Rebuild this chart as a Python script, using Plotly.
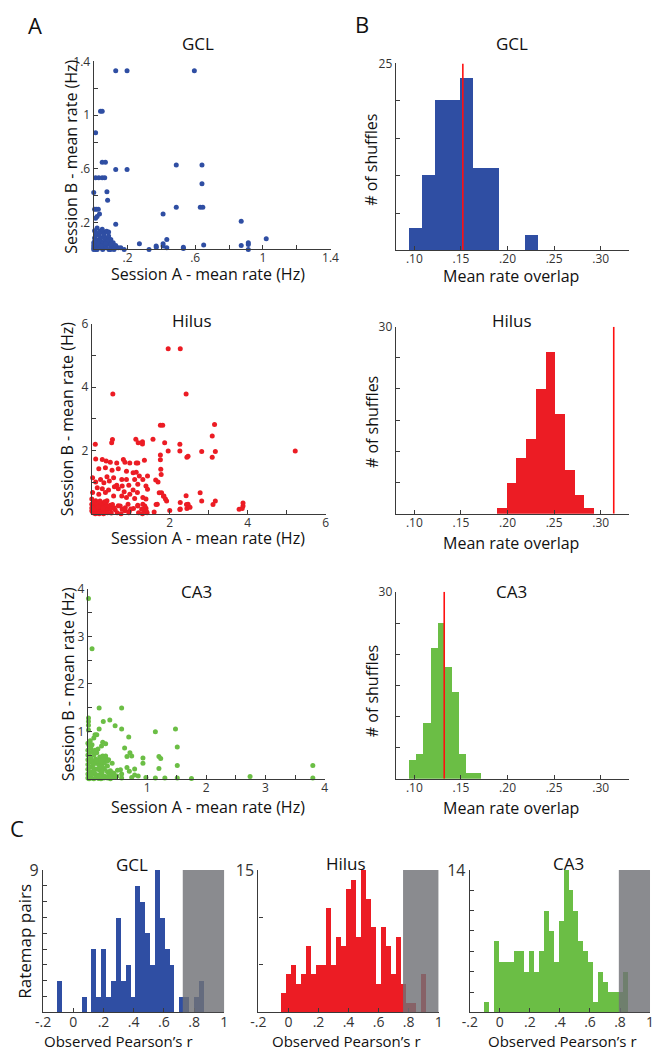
import plotly.graph_objects as go

W, H = 662, 1050
FONT = "Open Sans"
BLUE = "#2F4EA3"
RED = "#EC1C24"
GREEN = "#6BBE45"
GRAY = "rgba(112,114,118,0.82)"
AX = "#3a3a3a"

# ---------------- data ----------------
# A: session A vs session B mean rates (Hz)
gcl_a = [0.13, 0.197, 0.595, 0.04, 0.05, 0.011, 0.05, 0.069, 0.13, 0.197, 0.488, 0.64,
         0.011, 0.03, 0.05, 0.065, 0.0, 0.078, 0.082, 0.64, 0.488, 0.63, 0.645, 0.41, 0.872,
         0.13, 0.005, 0.015, 0.027, 0.011, 0.02, 0.034, 1.02, 0.914, 0.914, 0.914, 0.872,
         0.65, 0.53, 0.53, 0.432, 0.41, 0.41, 0.369, 0.327, 0.27, 0.432, 0.37,
         0.005, 0.01, 0.005, 0.02, 0.035, 0.045, 0.055, 0.063, 0.072, 0.082, 0.092, 0.101,
         0.111, 0.12, 0.13, 0.145, 0.0, 0.0, 0.015, 0.03, 0.038, 0.053, 0.069, 0.084, 0.076,
         0.065, 0.05, 0.088, 0.101, 0.115, 0.0, 0.01, 0.02, 0.025, 0.04, 0.06, 0.08, 0.1,
         0.09, 0.03, 0.015, 0.045, 0.07, 0.12, 0.16, 0.18, 0.0, 0.005, 0.1, 0.13, 0.035,
         0.05, 0.088, 0.06, 0.02]
gcl_b = [1.33, 1.33, 1.33, 1.03, 1.03, 0.87, 0.65, 0.65, 0.595, 0.595, 0.63, 0.63,
         0.535, 0.535, 0.535, 0.535, 0.425, 0.43, 0.366, 0.49, 0.315, 0.315, 0.315, 0.265, 0.21,
         0.187, 0.3, 0.3, 0.3, 0.233, 0.246, 0.265, 0.08, 0.05, 0.037, 0.0, 0.03,
         0.034, 0.017, 0.007, 0.074, 0.042, 0.025, 0.025, 0.0, 0.042, 0.012, 0.017,
         0.14, 0.1, 0.085, 0.07, 0.07, 0.06, 0.05, 0.025, 0.012, 0.037, 0.05, 0.025,
         0.012, 0.025, 0.012, 0.012, 0.05, 0.012, 0.025, 0.037, 0.012, 0.0, 0.074, 0.086, 0.135,
         0.128, 0.128, 0.1, 0.074, 0.05, 0.03, 0.0, 0.0, 0.05, 0.09, 0.09, 0.06, 0.0,
         0.0, 0.11, 0.12, 0.025, 0.045, 0.0, 0.012, 0.0, 0.0, 0.06, 0.04, 0.03, 0.135,
         0.15, 0.13, 0.11, 0.16]

hil_a = [1.96, 2.27, 0.54, 2.42, 1.76, 1.82, 3.15, 3.09, 0.53, 1.13, 1.57, 0.09, 0.51, 1.19,
         1.3, 1.3, 1.87, 2.26, 1.96, 2.26, 2.82, 3.17, 5.22, 2.44, 3.09, 1.76, 1.76,
         2.42, 2.78, 2.82, 3.17, 3.11, 2.43, 2.44, 2.26, 3.78, 3.86, 3.88, 3.88, 1.92, 1.84,
         1.79, 1.73,
         0.1, 0.27, 0.37, 0.475, 0.64, 0.81, 0.85, 0.975, 1.14, 1.18, 1.35, 1.77, 1.78,
         2.47, 0.18, 0.35, 0.52, 0.68, 0.89, 1.06, 1.14, 1.22, 1.43, 0.02, 0.225, 0.39,
         0.56, 0.77, 0.89, 1.1, 1.31, 1.64, 1.7, 0.1, 0.31, 0.45, 0.64, 0.78, 0.95, 1.18,
         1.39, 1.85, 0.14, 0.27, 0.43, 0.58, 0.68, 0.83, 0.975, 1.06, 1.17, 1.43, 1.89,
         0.02, 0.18, 0.35, 0.56, 0.77, 0.89, 1.1, 1.31, 1.39, 1.68, 2.27, 2.47, 0.0, 0.1,
         0.225, 0.39, 0.475, 0.68, 0.93, 1.18, 1.31, 1.39, 2.27, 2.52, 0.0, 0.06, 0.18,
         0.31, 0.43, 0.6, 0.85, 1.35, 0.0, 0.1, 0.225, 0.35,
         0.03, 0.07, 0.11, 0.15, 0.19, 0.23, 0.28, 0.32, 0.36, 0.4, 0.44, 0.48, 0.53, 0.57,
         0.04, 0.09, 0.15, 0.22, 0.28, 0.34, 0.03, 0.73, 0.78, 0.86, 0.96, 1.07, 1.18, 1.28,
         1.36, 1.4, 1.65, 2.0,
         0.05, 0.08, 0.12, 0.15, 0.2, 0.25, 0.03, 0.13, 0.28, 0.33, 0.06, 0.16, 0.21, 0.4,
         0.0, 0.09, 0.19, 0.3, 0.5, 0.65, 0.75, 0.95, 1.0, 1.2, 1.3, 1.42, 1.6]
hil_b = [5.21, 5.21, 3.78, 3.78, 2.79, 2.79, 2.82, 2.45, 2.34, 2.35, 2.35, 2.19, 2.24, 2.24,
         2.27, 2.2, 2.24, 2.19, 1.98, 1.98, 1.96, 1.96, 1.98, 1.78, 1.78, 1.85, 1.70,
         0.57, 0.66, 0.4, 0.4, 0.29, 0.29, 0.16, 0.13, 0.14, 0.16, 0.24, 0.34, 0.4, 0.55,
         0.66, 0.66,
         1.73, 1.71, 1.66, 1.625, 1.6, 1.71, 1.625, 1.6, 1.6, 1.6, 1.69, 1.4, 1.24,
         1.81, 1.42, 1.45, 1.375, 1.42, 1.34, 1.29, 1.31, 1.19, 1.19, 1.135, 1.08, 1.17,
         1.135, 1.08, 1.08, 1.08, 1.08, 1.06, 1.0, 1.0, 0.98, 1.03, 0.9, 0.875, 0.9, 0.93,
         0.875, 0.56, 0.82, 0.79, 0.75, 0.85, 0.79, 0.69, 0.615, 0.75, 0.67, 0.77, 0.46,
         0.67, 0.615, 0.67, 0.56, 0.56, 0.51, 0.48, 0.51, 0.46, 0.3, 0.35, 0.3, 0.46, 0.41,
         0.35, 0.41, 0.27, 0.25, 0.3, 0.27, 0.3, 0.17, 0.145, 0.2, 0.3, 0.25, 0.2,
         0.15, 0.15, 0.125, 0.09, 0.09, 0.09, 0.09, 0.09, 0.06,
         0.29, 0.34, 0.24, 0.29, 0.19, 0.34, 0.24, 0.16, 0.29, 0.19, 0.24, 0.14, 0.29, 0.19,
         0.16, 0.08, 0.03, 0.05, 0.08, 0.03, 0.03, 0.24, 0.14, 0.19, 0.08, 0.16, 0.24, 0.14,
         0.24, 0.08, 0.29, 0.1,
         0.35, 0.2, 0.28, 0.15, 0.05, 0.3, 0.05, 0.04, 0.18, 0.38, 0.13, 0.22, 0.4, 0.03,
         0.18, 0.0, 0.0, 0.0, 0.02, 0.03, 0.0, 0.03, 0.15, 0.03, 0.0, 0.03, 0.05]

ca3_a = [0.19, 0.57, 0.01, 0.01, 0.01, 0.01, 0.26, 0.37, 0.46, 0.57, 0.19, 1.14, 1.48, 0.69,
         0.12, 0.15, 0.1, 0.25, 0.3, 0.23, 1.51, 0.62, 0.71, 0.74, 0.66, 0.93, 0.93, 1.2,
         1.23, 1.2, 1.51, 0.41, 0.46, 0.57, 0.74, 0.98, 1.14, 1.3, 1.51, 1.75, 0.66, 0.7,
         0.79, 0.79, 0.85, 0.5, 0.57, 0.49, 3.8, 3.8, 2.74, 0.01, 0.07,
         0.0, 0.02, 0.05, 0.0, 0.03, 0.08, 0.0, 0.05, 0.1, 0.15, 0.2, 0.25, 0.3, 0.35, 0.0,
         0.03, 0.07, 0.12, 0.18, 0.24, 0.0, 0.05, 0.1, 0.15, 0.2, 0.28, 0.33, 0.0, 0.04,
         0.08, 0.12, 0.16, 0.22, 0.26, 0.3, 0.36, 0.0, 0.03, 0.06, 0.1, 0.14, 0.18, 0.22,
         0.27, 0.02, 0.0, 0.05, 0.09, 0.13, 0.17, 0.04, 0.07, 0.12, 0.2, 0.33, 0.38, 0.44,
         0.28, 0.1, 0.2, 0.16, 0.24,
         0.25, 0.3, 0.27, 0.22, 0.33, 0.41, 0.33, 0.25, 0.38, 0.41, 0.55]
ca3_b = [1.49, 1.49, 1.28, 1.21, 1.13, 1.03, 1.21, 1.24, 1.12, 1.05, 1.05, 0.99, 1.05, 0.88,
         0.93, 0.93, 0.86, 0.77, 0.74, 0.69, 0.67, 0.65, 0.55, 0.48, 0.47, 0.44, 0.33, 0.47,
         0.43, 0.22, 0.28, 0.05, 0.03, 0.02, 0.03, 0.03, 0.02, 0.02, 0.02, 0.01, 0.24, 0.16,
         0.21, 0.08, 0.06, 0.18, 0.1, 0.06, 0.28, 0.02, 0.05, 3.8, 2.74,
         0.75, 0.7, 0.65, 0.6, 0.55, 0.58, 0.5, 0.45, 0.5, 0.55, 0.46, 0.46, 0.45, 0.4, 0.4,
         0.35, 0.38, 0.33, 0.3, 0.3, 0.3, 0.25, 0.22, 0.2, 0.18, 0.2, 0.15, 0.2, 0.15,
         0.12, 0.1, 0.08, 0.1, 0.06, 0.05, 0.08, 0.1, 0.05, 0.02, 0.0, 0.03, 0.01, 0.0,
         0.02, 0.0, 0.02, 0.1, 0.3, 0.42, 0.63, 0.8, 0.72, 0.6, 0.05, 0.02, 0.0, 0.12,
         0.34, 0.15, 0.25, 0.38, 0.14,
         0.48, 0.48, 0.41, 0.375, 0.375, 0.33, 0.27, 0.24, 0.17, 0.13, 0.19]

# B: shuffled mean rate overlap (bin centres, counts) and observed value
overlap_bins_gcl = [0.1009, 0.1147, 0.1285, 0.1423, 0.1561, 0.1699, 0.1837, 0.1975, 0.2113, 0.2251]
overlap_counts_gcl = [3, 10, 20, 20, 23, 11, 11, 0, 0, 2]
overlap_width_gcl = 0.0138
overlap_obs_gcl = 0.152

overlap_bins_hil = [0.1937, 0.2041, 0.2145, 0.2249, 0.2353, 0.2457, 0.2561, 0.2665, 0.2769, 0.2873]
overlap_counts_hil = [1, 5, 9, 12, 20, 26, 16, 7, 3, 1]
overlap_width_hil = 0.0104
overlap_obs_hil = 0.314

overlap_bins_ca3 = [0.0979, 0.1056, 0.1133, 0.1210, 0.1287, 0.1364, 0.1441, 0.1518, 0.1595, 0.1672]
overlap_counts_ca3 = [3, 4, 9, 21, 25, 18, 14, 4, 1, 1]
overlap_width_ca3 = 0.0077
overlap_obs_ca3 = 0.132

# C: observed Pearson's r histograms (first bin left edge, bin width, counts) + shuffled 95th pct
r_start_gcl, r_width_gcl = -0.105, 0.0323
r_counts_gcl = [2, 0, 0, 0, 0, 1, 0, 4, 1, 4, 1, 2, 6, 2, 3, 1, 8, 7, 5, 3, 9, 6, 4, 3, 0, 1, 1, 0, 1, 2]
r_thresh_gcl = 0.725

r_start_hil, r_width_hil = -0.045, 0.0332
r_counts_hil = [2, 4, 5, 3, 4, 7, 4, 5, 5, 11, 5, 8, 7, 13, 14, 8, 15, 12, 9, 3, 9, 7, 4, 8, 3, 1, 1, 0, 4]
r_thresh_hil = 0.763

r_start_ca3, r_width_ca3 = -0.105, 0.033
r_counts_ca3 = [1, 0, 7, 5, 5, 5, 6, 6, 4, 6, 4, 6, 10, 8, 5, 9, 14, 12, 10, 7, 6, 5, 1, 4, 3, 2, 2, 2, 4]
r_thresh_ca3 = 0.792

# ---------------- layout helpers (reference pixels -> paper fraction) ----------------
def dom_x(a, b):
    return [a / W, b / W]

def dom_y(top, bottom):
    return [1 - bottom / H, 1 - top / H]

panels = {
    1: (88, 331, 51, 241),
    2: (398, 637, 53, 242),
    3: (86, 326, 316, 508),
    4: (398, 637, 319, 508),
    5: (82, 325, 584, 776),
    6: (398, 637, 587, 776),
    7: (36, 222, 868, 1012),
    8: (257, 442, 868, 1012),
    9: (474, 659, 868, 1012),
}

fig = go.Figure()
layout = dict(width=W, height=H, margin=dict(l=0, r=0, t=0, b=0),
              paper_bgcolor="white", plot_bgcolor="white", showlegend=False,
              font=dict(family=FONT, color="#222"), bargap=0)

def ax_common(tickvals, ticktext, rng, size, standoff=0):
    return dict(range=rng, tickvals=tickvals, ticktext=ticktext, ticks="inside", ticklen=4,
                tickwidth=1, tickcolor=AX, showline=True, linecolor=AX, linewidth=1.2,
                showgrid=False, zeroline=False, mirror=False, ticklabelstandoff=standoff,
                tickfont=dict(family=FONT, size=size, color="#333"), fixedrange=True)

axes_spec = {}
v = [0, 0.2, 0.4, 0.6, 0.8, 1.0, 1.2, 1.4]
t = ["", ".2", "", ".6", "", "1", "", "1.4"]
axes_spec[1] = (ax_common(v, t, [0, 1.4], 12, -3), ax_common(v, t, [0, 1.4], 12))
v = [0, 1, 2, 3, 4, 5, 6]
t = ["", "", "2", "", "4", "", "6"]
axes_spec[3] = (ax_common(v, t, [0, 6], 12, -2), ax_common(v, t, [0, 6], 12))
v = [0, 0.5, 1, 1.5, 2, 2.5, 3, 3.5, 4]
t = ["", "", "1", "", "2", "", "3", "", "4"]
axes_spec[5] = (ax_common(v, t, [0, 4], 12, -2), ax_common(v, t, [0, 4], 12))
hv = [0.10, 0.15, 0.20, 0.25, 0.30]
ht = [".10", ".15", ".20", ".25", ".30"]
axes_spec[2] = (ax_common(hv, ht, [0.08, 0.33], 12, -3),
                ax_common([0, 5, 10, 15, 20, 25], ["", "", "", "", "", "25"], [0, 25], 12))
axes_spec[4] = (ax_common(hv, ht, [0.08, 0.33], 12, -2),
                ax_common([0, 5, 10, 15, 20, 25, 30], ["", "", "", "", "", "", "30"], [0, 30], 12))
axes_spec[6] = (ax_common(hv, ht, [0.08, 0.33], 12, -2),
                ax_common([0, 5, 10, 15, 20, 25, 30], ["", "", "", "", "", "", "30"], [0, 30], 12))
rv = [-0.2, 0, 0.2, 0.4, 0.6, 0.8, 1.0]
rt = ["-.2", "0", ".2", ".4", ".6", ".8", "1"]
axes_spec[7] = (ax_common(rv, rt, [-0.2, 1], 14, -3),
                ax_common(list(range(10)), [""] * 9 + ["9"], [0, 9], 16))
axes_spec[8] = (ax_common(rv, rt, [-0.2, 1], 14, -3),
                ax_common([0, 5, 10, 15], ["", "", "", "15"], [0, 15], 16))
axes_spec[9] = (ax_common(rv, rt, [-0.2, 1], 14, -3),
                ax_common(list(range(0, 15, 2)), [""] * 7 + ["14"], [0, 14], 16))

for i, (x0, x1, yt, yb) in panels.items():
    xa, ya = axes_spec[i]
    sfx = "" if i == 1 else str(i)
    layout["xaxis" + sfx] = dict(xa, domain=dom_x(x0, x1), anchor="y" + sfx)
    layout["yaxis" + sfx] = dict(ya, domain=dom_y(yt, yb), anchor="x" + sfx)

def axref(i):
    sfx = "" if i == 1 else str(i)
    return "x" + sfx, "y" + sfx

# ---------------- traces ----------------
for i, xs, ys, col in [(1, gcl_a, gcl_b, BLUE), (3, hil_a, hil_b, RED), (5, ca3_a, ca3_b, GREEN)]:
    xr, yr = axref(i)
    fig.add_trace(go.Scatter(x=xs, y=ys, mode="markers", xaxis=xr, yaxis=yr, cliponaxis=False,
                             marker=dict(size=5, color=col, line=dict(width=0))))

for i, bins, cnt, wd, obs, top, col in [
        (2, overlap_bins_gcl, overlap_counts_gcl, overlap_width_gcl, overlap_obs_gcl, 25, BLUE),
        (4, overlap_bins_hil, overlap_counts_hil, overlap_width_hil, overlap_obs_hil, 30, RED),
        (6, overlap_bins_ca3, overlap_counts_ca3, overlap_width_ca3, overlap_obs_ca3, 30, GREEN)]:
    xr, yr = axref(i)
    fig.add_trace(go.Bar(x=bins, y=cnt, width=[wd] * len(bins), xaxis=xr, yaxis=yr,
                         marker=dict(color=col, line=dict(width=0))))
    fig.add_trace(go.Scatter(x=[obs, obs], y=[0, top], mode="lines", xaxis=xr, yaxis=yr,
                             line=dict(color="#FF1010", width=1.6)))

shapes = []
for i, start, wd, cnt, thr, top, col in [
        (7, r_start_gcl, r_width_gcl, r_counts_gcl, r_thresh_gcl, 9, BLUE),
        (8, r_start_hil, r_width_hil, r_counts_hil, r_thresh_hil, 15, RED),
        (9, r_start_ca3, r_width_ca3, r_counts_ca3, r_thresh_ca3, 14, GREEN)]:
    xr, yr = axref(i)
    centers = [start + wd * (k + 0.5) for k in range(len(cnt))]
    fig.add_trace(go.Bar(x=centers, y=cnt, width=[wd] * len(cnt), xaxis=xr, yaxis=yr,
                         marker=dict(color=col, line=dict(width=0))))
    shapes.append(dict(type="rect", xref=xr, yref=yr, x0=thr, x1=1, y0=0, y1=top,
                       fillcolor=GRAY, line=dict(width=0), layer="above"))

layout["shapes"] = shapes

# ---------------- text ----------------
ann = []
def text(s, px, py, size, rot=0, color="#111"):
    ann.append(dict(text=s, x=px / W, y=1 - py / H, xref="paper", yref="paper",
                    showarrow=False, xanchor="center", yanchor="middle", textangle=rot,
                    font=dict(family=FONT, size=size, color=color)))

text("A", 28, 14, 22)
text("B", 363, 13, 22)
text("C", 9, 826, 22)
for s, px, py in [("GCL", 195, 33), ("GCL", 517, 33), ("Hilus", 189, 313), ("Hilus", 517, 313),
                  ("CA3", 193, 587), ("CA3", 517, 587),
                  ("GCL", 127, 863), ("Hilus", 347, 862), ("CA3", 575, 862)]:
    text(s, px, py, 17)
for py in [266, 533, 804]:
    text("Session A - mean rate (Hz)", 205, py, 16)
for px, py in [(65, 147), (60, 412), (61, 680)]:
    text("Session B - mean rate (Hz)", px, py, 16, rot=-90)
for py in [268, 538, 805]:
    text("Mean rate overlap", 516, py, 16)
for py in [150, 415, 687]:
    text("# of shuffles", 373, py, 16, rot=-90)
text("Ratemap pairs", 17, 940, 17, rot=-90)
for px in [113, 347, 569]:
    text("Observed Pearson\u2019s r", px, 1041, 15)

layout["annotations"] = ann
fig.update_layout(**layout)
fig.write_html("out.html", config={"displayModeBar": False},
               post_script="document.body.style.margin='0';document.body.style.padding='0';"
                           "document.body.style.overflow='hidden';")
